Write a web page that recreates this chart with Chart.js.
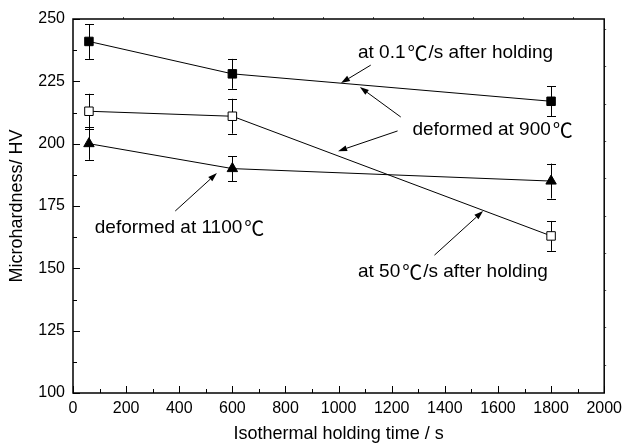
<!DOCTYPE html>
<html>
<head>
<meta charset="utf-8">
<script src="https://cdn.jsdelivr.net/npm/chart.js@4"></script>
<style>
  body { margin: 0; background: #fff; }
  #wrap { width: 628px; height: 445px; position: relative; }
</style>
</head>
<body>
<div id="wrap"><canvas id="chartCanvas"></canvas></div>
<script>
// holding times (s)
const times = [60, 600, 1800];
// deformed at 900℃, cooled at 0.1℃/s after holding
const hvSlow = [241, 228, 217];
const errSlow = [7, 6, 6];
// deformed at 900℃, cooled at 50℃/s after holding
const hvFast = [213, 211, 163];
const errFast = [7, 7, 6];
// deformed at 1100℃
const hv1100 = [200, 190, 185];
const err1100 = [6.5, 5, 7];

const xTicks = [0, 200, 400, 600, 800, 1000, 1200, 1400, 1600, 1800, 2000];
const yTicks = [100, 125, 150, 175, 200, 225, 250];

// annotation labels, anchored in data units (left edge, middle)
const noteText = ['at 0.1℃/s after holding', 'deformed at 900℃', 'deformed at 1100℃', 'at 50℃/s after holding'];
const noteX = [1073, 1278, 82, 1073];
const noteY = [236.4, 205.5, 166.2, 148.5];
// arrows: [fromX, fromY, toX, toY] in data units
const arrows = [
  [1121, 231.5, 1009, 224.3],
  [1234, 210.7, 1080, 222.7],
  [1222, 205.1, 998, 197.0],
  [385, 173.0, 542, 188.2],
  [1361, 155.3, 1544, 173.0]
];

const FONT = "'Liberation Sans', Arial, sans-serif";
const CJK = "'Noto Sans CJK SC', sans-serif";

const errorBars = {
  id: 'errorBars',
  beforeDatasetsDraw(chart) {
    const ctx = chart.ctx;
    const y = chart.scales.y;
    ctx.save();
    ctx.strokeStyle = '#000';
    ctx.lineWidth = 1;
    chart.data.datasets.forEach((ds, i) => {
      const meta = chart.getDatasetMeta(i);
      meta.data.forEach((pt, j) => {
        const e = ds.errors[j];
        const top = y.getPixelForValue(ds.data[j].y + e);
        const bot = y.getPixelForValue(ds.data[j].y - e);
        const px = Math.round(pt.x) + 0.5;
        ctx.beginPath();
        ctx.moveTo(px, top); ctx.lineTo(px, bot);
        ctx.moveTo(px - 4.5, Math.round(top) + 0.5); ctx.lineTo(px + 4.5, Math.round(top) + 0.5);
        ctx.moveTo(px - 4.5, Math.round(bot) + 0.5); ctx.lineTo(px + 4.5, Math.round(bot) + 0.5);
        ctx.stroke();
      });
    });
    ctx.restore();
  }
};

const frameTicks = {
  id: 'frameTicks',
  afterDraw(chart) {
    const ctx = chart.ctx;
    const a = chart.chartArea;
    const xs = chart.scales.x, ys = chart.scales.y;
    ctx.save();
    ctx.strokeStyle = '#000';
    ctx.lineWidth = 1;
    ctx.beginPath();
    // bottom ticks, inward
    for (let v = 0; v <= 2000; v += 100) {
      const px = Math.round(xs.getPixelForValue(v)) + 0.5;
      const len = v % 200 === 0 ? 7 : 4;
      ctx.moveTo(px, a.bottom); ctx.lineTo(px, a.bottom - len);
    }
    // left ticks, inward
    for (let v = 100; v <= 250; v += 12.5) {
      const py = Math.round(ys.getPixelForValue(v)) + 0.5;
      const len = v % 25 === 0 ? 7 : 4;
      ctx.moveTo(a.left, py); ctx.lineTo(a.left + len, py);
    }
    ctx.stroke();
    // faint outer ticks on top and right edges
    ctx.strokeStyle = '#555';
    ctx.beginPath();
    for (let px = a.left + 50; px < a.right - 5; px += 50) {
      ctx.moveTo(Math.round(px) + 0.5, a.top); ctx.lineTo(Math.round(px) + 0.5, a.top - 2);
    }
    for (let py = a.top + 10; py < a.bottom - 5; py += 37.3) {
      ctx.moveTo(a.right, Math.round(py) + 0.5); ctx.lineTo(a.right + 2, Math.round(py) + 0.5);
    }
    ctx.stroke();
    // frame
    ctx.strokeStyle = '#000';
    ctx.lineWidth = 1.5;
    ctx.strokeRect(a.left, a.top, a.right - a.left, a.bottom - a.top);
    ctx.restore();
  }
};

// draw text, switching to a CJK font for the ℃ sign
function drawNote(ctx, text, x, y) {
  const parts = text.split('℃');
  let cx = x;
  parts.forEach((p, k) => {
    ctx.font = '19px ' + FONT;
    ctx.fillText(p, cx, y);
    cx += ctx.measureText(p).width;
    if (k < parts.length - 1) {
      cx += 2;
      ctx.font = '20px ' + CJK;
      ctx.fillText('℃', cx, y);
      cx += ctx.measureText('℃').width + 1;
    }
  });
}

const notes = {
  id: 'notes',
  afterDatasetsDraw(chart) {
    const ctx = chart.ctx;
    const xs = chart.scales.x, ys = chart.scales.y;
    ctx.save();
    ctx.fillStyle = '#000';
    ctx.strokeStyle = '#000';
    ctx.lineWidth = 1;
    ctx.textAlign = 'left';
    ctx.textBaseline = 'middle';
    noteText.forEach((t, i) => {
      drawNote(ctx, t, xs.getPixelForValue(noteX[i]), ys.getPixelForValue(noteY[i]));
    });
    arrows.forEach(ar => {
      const x1 = xs.getPixelForValue(ar[0]), y1 = ys.getPixelForValue(ar[1]);
      const x2 = xs.getPixelForValue(ar[2]), y2 = ys.getPixelForValue(ar[3]);
      const ang = Math.atan2(y2 - y1, x2 - x1);
      const hl = 9, hw = 3;
      const bx = x2 - hl * Math.cos(ang), by = y2 - hl * Math.sin(ang);
      ctx.beginPath();
      ctx.moveTo(x1, y1); ctx.lineTo(bx, by);
      ctx.stroke();
      ctx.beginPath();
      ctx.moveTo(x2, y2);
      ctx.lineTo(bx + hw * Math.sin(ang), by - hw * Math.cos(ang));
      ctx.lineTo(bx - hw * Math.sin(ang), by + hw * Math.cos(ang));
      ctx.closePath();
      ctx.fill();
    });
    ctx.restore();
  }
};

function series(vals, errs, style, fill) {
  return {
    data: times.map((t, i) => ({ x: t, y: vals[i] })),
    errors: errs,
    showLine: true,
    borderColor: '#000',
    borderWidth: 1,
    pointStyle: style,
    pointRadius: 6,
    pointBackgroundColor: fill,
    pointBorderColor: '#000',
    pointBorderWidth: 1
  };
}

const ctx = document.getElementById('chartCanvas').getContext('2d');
new Chart(ctx, {
  type: 'scatter',
  data: {
    datasets: [
      series(hvSlow, errSlow, 'rect', '#000'),
      series(hvFast, errFast, 'rect', '#fff'),
      series(hv1100, err1100, 'triangle', '#000')
    ]
  },
  options: {
    responsive: true,
    maintainAspectRatio: false,
    animation: false,
    layout: { padding: { top: 19, right: 20, left: 0, bottom: 0 } },
    plugins: { legend: { display: false }, tooltip: { enabled: false } },
    scales: {
      x: {
        type: 'linear',
        min: 0, max: 2000,
        afterBuildTicks: s => { s.ticks = xTicks.map(v => ({ value: v })); },
        afterFit: s => { s.height = 52; },
        ticks: { autoSkip: false, maxRotation: 0, padding: 6, color: '#000', font: { family: FONT, size: 16 }, callback: v => String(v) },
        grid: { display: false, drawTicks: false },
        border: { display: false },
        title: { display: true, text: 'Isothermal holding time / s', color: '#000', font: { family: FONT, size: 18 }, padding: { top: 0, bottom: 0 } }
      },
      y: {
        type: 'linear',
        min: 100, max: 250,
        afterBuildTicks: s => { s.ticks = yTicks.map(v => ({ value: v })); },
        afterFit: s => { s.width = 73; },
        ticks: { autoSkip: false, padding: 8, color: '#000', font: { family: FONT, size: 16 }, callback: v => String(v) },
        grid: { display: false, drawTicks: false },
        border: { display: false },
        title: { display: true, text: 'Microhardness/ HV', color: '#000', font: { family: FONT, size: 18 }, padding: { top: 6, bottom: 0 } }
      }
    }
  },
  plugins: [errorBars, notes, frameTicks]
});
</script>
</body>
</html>
